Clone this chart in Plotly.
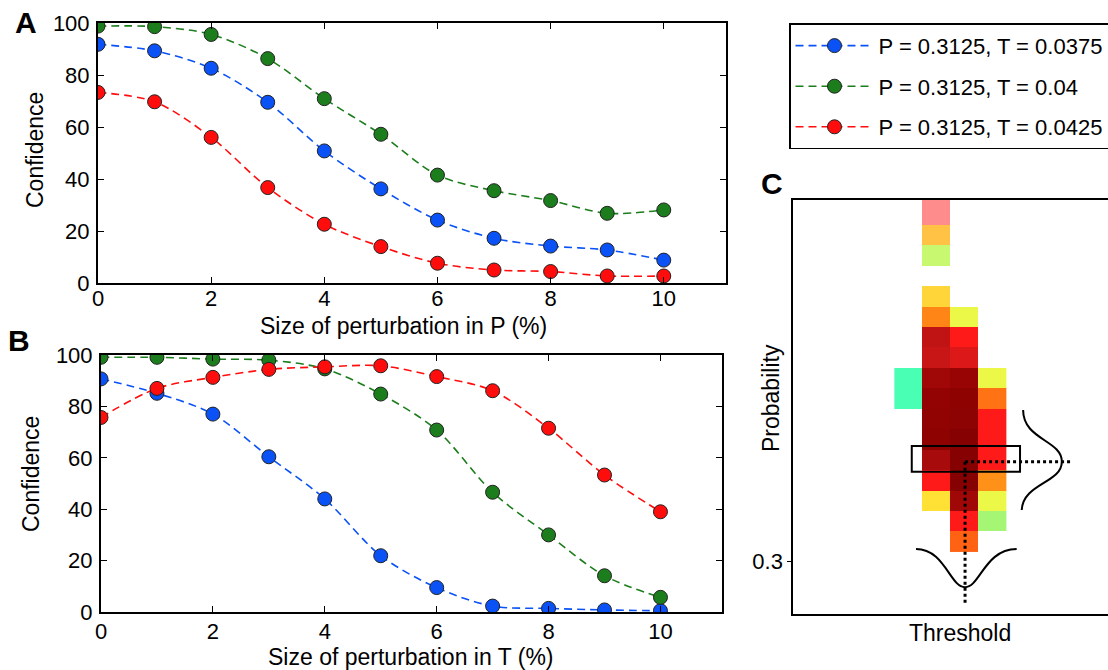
import plotly.graph_objects as go

# ---------------- data ----------------
pert = [0, 1, 2, 3, 4, 5, 6, 7, 8, 9, 10]
labels = ["P = 0.3125, T = 0.0375", "P = 0.3125, T = 0.04", "P = 0.3125, T = 0.0425"]

confA_blue = [91.8, 89.3, 82.6, 69.5, 50.8, 36.2, 24.2, 17.2, 14.2, 12.7, 8.8]
confA_green = [98.8, 98.6, 95.6, 86.3, 70.9, 57.2, 41.5, 35.5, 31.7, 26.8, 28.1]
confA_red = [73.3, 69.7, 56.0, 36.7, 22.6, 14.0, 7.6, 5.0, 4.4, 2.7, 2.7]

confB_blue = [90.7, 85.1, 77.0, 60.4, 44.0, 21.9, 9.5, 2.3, 1.4, 0.8, 0.5]
confB_green = [99.1, 99.1, 98.4, 98.0, 94.6, 84.8, 70.8, 46.6, 30.0, 14.1, 5.7]
confB_red = [75.7, 87.0, 91.3, 94.4, 95.4, 95.8, 91.6, 86.1, 71.5, 53.3, 39.0]

thresholds = [0.035, 0.0375, 0.04, 0.0425]
probabilities = [0.3025, 0.305, 0.3075, 0.31, 0.3125, 0.315, 0.3175, 0.32, 0.3225,
                 0.325, 0.3275, 0.33, 0.3325, 0.335, 0.3375, 0.34, 0.3425, 0.345]
# confidence map (rows: probabilities bottom->top, cols: thresholds)
N = None
conf_map = [
    [N, N, 0.58, N],
    [N, N, 0.66, 0.10],
    [N, 0.34, 0.88, 0.26],
    [N, 0.66, 0.98, 0.50],
    [N, 0.86, 0.98, 0.66],
    [N, 0.94, 0.98, 0.66],
    [N, 0.93, 0.95, 0.66],
    [0.0, 0.92, 0.94, 0.55],
    [0.0, 0.88, 0.90, 0.26],
    [N, 0.78, 0.73, N],
    [N, 0.80, 0.66, N],
    [N, 0.52, 0.26, N],
    [N, 0.37, N, N],
    [N, N, N, N],
    [N, 0.18, N, N],
    [N, 0.42, N, N],
    [N, N, N, N],
    [N, N, N, N],
]
conf_map_faint = [[N, N, N, N] for _ in probabilities]
conf_map_faint[16][1] = 0.66
conf_map_faint[17][1] = 0.66

sel_T = 0.04
sel_P = 0.3125
dT = 0.0025
dP = 0.0025

# ---------------- styles ----------------
W, H = 1108, 670
FONT = "Arial, Liberation Sans, sans-serif"
colors = ["#0a52f5", "#1c7d1c", "#ff0d0d"]
cscale = [
    [0.00, "#48ffb4"], [0.10, "#a4f674"], [0.18, "#c8f870"], [0.26, "#ecf848"],
    [0.34, "#ffe034"], [0.42, "#ffc244"], [0.50, "#ff9018"], [0.58, "#ff6212"],
    [0.66, "#ff1a1a"], [0.74, "#d81818"], [0.82, "#b81212"], [0.90, "#980404"],
    [1.00, "#820000"],
]


def px(x):
    return x / W


def py(y):
    return 1 - y / H


fig = go.Figure()

seriesA = [confA_blue, confA_green, confA_red]
seriesB = [confB_blue, confB_green, confB_red]
for i in range(3):
    fig.add_trace(go.Scatter(
        x=pert, y=seriesA[i], name=labels[i], mode="lines+markers",
        line=dict(color=colors[i], width=1.6, dash="8px,5px", shape="spline", smoothing=0.9),
        marker=dict(color=colors[i], size=14, line=dict(color="#222", width=1)),
        xaxis="x", yaxis="y", legendgroup="g%d" % i, showlegend=True))
for i in range(3):
    fig.add_trace(go.Scatter(
        x=pert, y=seriesB[i], name=labels[i], mode="lines+markers",
        line=dict(color=colors[i], width=1.6, dash="8px,5px", shape="spline", smoothing=0.9),
        marker=dict(color=colors[i], size=14, line=dict(color="#222", width=1)),
        xaxis="x2", yaxis="y2", legendgroup="g%d" % i, showlegend=False))

fig.add_trace(go.Heatmap(
    x=thresholds, y=probabilities, z=conf_map, colorscale=cscale, zmin=0, zmax=1,
    showscale=False, xaxis="x3", yaxis="y3", hoverongaps=False))
fig.add_trace(go.Heatmap(
    x=thresholds, y=probabilities, z=conf_map_faint, colorscale=cscale, zmin=0, zmax=1,
    showscale=False, opacity=0.5, xaxis="x3", yaxis="y3", hoverongaps=False))

TICKSIZE = 22
TITLESIZE = 23
axis_common = dict(showline=True, linecolor="black", linewidth=2, mirror="allticks",
                   ticks="inside", ticklen=6, tickwidth=1.2, tickcolor="black",
                   showgrid=False, zeroline=False,
                   tickfont=dict(family=FONT, size=TICKSIZE, color="black"))

fig.update_layout(
    width=W, height=H,
    margin=dict(l=0, r=0, t=0, b=0, autoexpand=False),
    paper_bgcolor="white", plot_bgcolor="white",
    font=dict(family=FONT, color="black"),
    xaxis=dict(domain=[px(98), px(726)], range=[0, 11.1], tickvals=[0, 2, 4, 6, 8, 10],
               anchor="y", ticklabelstandoff=-5, **axis_common),
    yaxis=dict(domain=[py(283), py(23)], range=[0, 100], tickvals=[0, 20, 40, 60, 80, 100],
               anchor="x", ticklabelstandoff=2, **axis_common),
    xaxis2=dict(domain=[px(101), px(722)], range=[0, 11.1], tickvals=[0, 2, 4, 6, 8, 10],
                anchor="y2", ticklabelstandoff=-1, **axis_common),
    yaxis2=dict(domain=[py(612), py(355)], range=[0, 100], tickvals=[0, 20, 40, 60, 80, 100],
                anchor="x2", ticklabelstandoff=2, **axis_common),
    xaxis3=dict(domain=[px(793.3), 1.0], range=[0.024742, 0.05279], anchor="y3",
                showline=True, linecolor="black", linewidth=2, mirror=True,
                showticklabels=False, ticks="", showgrid=False, zeroline=False),
    yaxis3=dict(domain=[py(614.3), py(200)], range=[0.29356, 0.344283], anchor="x3",
                showline=True, linecolor="black", linewidth=2, mirror=False,
                tickvals=[0.3], ticktext=["0.3"], ticks="outside", ticklen=4,
                tickcolor="black", showgrid=False, zeroline=False,
                tickfont=dict(family=FONT, size=TICKSIZE, color="black")),
    legend=dict(x=px(789), y=py(23.3), xanchor="left", yanchor="top",
                bordercolor="black", borderwidth=1.5, bgcolor="white",
                font=dict(family=FONT, size=22, color="black"),
                traceorder="grouped", tracegroupgap=9, itemwidth=78),
)

# ---------------- annotations (titles, panel letters) ----------------
ann = []
for txt, x, y in [("A", 26, 22), ("B", 19, 340), ("C", 772, 183)]:
    ann.append(dict(text="<b>%s</b>" % txt, x=px(x), y=py(y), xref="paper", yref="paper",
                    xanchor="center", yanchor="middle",
                    showarrow=False, font=dict(family=FONT, size=30, color="black")))
for txt, x, y, ang in [("Confidence", 35, 150, -90), ("Confidence", 31, 474, -90),
                       ("Size of perturbation in P (%)", 403, 326, 0),
                       ("Size of perturbation in T (%)", 411, 657, 0),
                       ("Probability", 771, 398, -90), ("Threshold", 960, 633, 0)]:
    ann.append(dict(text=txt, x=px(x), y=py(y), xref="paper", yref="paper", textangle=ang,
                    xanchor="center", yanchor="middle",
                    showarrow=False, font=dict(family=FONT, size=TITLESIZE, color="black")))
fig.update_layout(annotations=ann)


# ---------------- schematic on panel C (cell-offset units) ----------------
def cx(dc):
    return sel_T + dc * dT


def cy(dr):
    return sel_P + dr * dP


shapes = []
shapes.append(dict(type="rect", xref="x3", yref="y3", x0=cx(-1.88), x1=cx(1.98),
                   y0=cy(-0.59), y1=cy(0.67), line=dict(color="black", width=2)))
shapes.append(dict(type="line", xref="x3", yref="y3", x0=cx(0.02), x1=cx(3.83),
                   y0=cy(-0.1), y1=cy(-0.1), line=dict(color="black", width=3, dash="dot")))
shapes.append(dict(type="line", xref="x3", yref="y3", x0=cx(0.02), x1=cx(0.02),
                   y0=cy(-0.1), y1=cy(-7.02), line=dict(color="black", width=3, dash="dot")))


def path(pts):
    s = "M %f,%f" % (cx(pts[0][0]), cy(pts[0][1]))
    rest = pts[1:]
    for k in range(0, len(rest), 3):
        s += " C " + " ".join("%f,%f" % (cx(a), cy(b)) for a, b in rest[k:k + 3])
    return s


right_bell = [(2.09, 2.43), (2.09, 0.96), (3.47, 0.96), (3.47, -0.1),
              (3.47, -1.15), (2.09, -1.15), (2.04, -2.47)]
bottom_bell = [(-1.73, -4.38), (-0.70, -4.38), (-0.52, -6.25), (0.02, -6.25),
               (0.55, -6.25), (0.73, -4.38), (1.86, -4.38)]
for pts in (right_bell, bottom_bell):
    shapes.append(dict(type="path", xref="x3", yref="y3", path=path(pts),
                       line=dict(color="black", width=2)))
fig.update_layout(shapes=shapes)

fig.write_html("out.html")
